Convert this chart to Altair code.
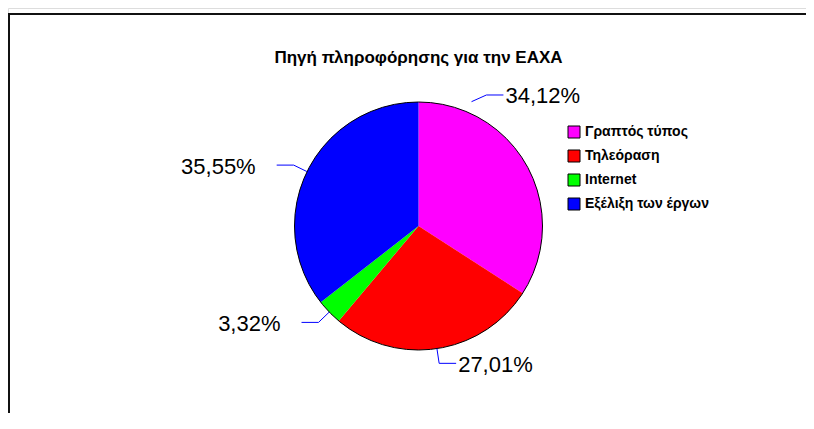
import math
import altair as alt
import pandas as pd

# ---------------- data ----------------
chart_title = "Πηγή πληροφόρησης για την ΕΑΧΑ"
categories = ["Γραπτός τύπος", "Τηλεόραση", "Internet", "Εξέλιξη των έργων"]
values = [34.12, 27.01, 3.32, 35.55]
colors = ["#FF00FF", "#FF0000", "#00FF00", "#0000FF"]

# ---------------- layout ----------------
W, H = 798, 405          # view size (pixels)
CX, CY = 410.5, 218      # pie centre inside the view
R = 124                  # pie radius
ELBOW = 1.12             # elbow of leader lines (fraction of R)
TAIL = 17                # horizontal part of leader lines
GAP_LEFT, GAP_RIGHT = 21, 2
FONT = "Liberation Sans"
# label that was dragged away from its slice: (start angle, start r), (elbow angle, elbow r)
MOVED = {"Γραπτός τύπος": ((23.1, 1.09), (27.4, 1.19))}


def polar(angle_deg, r):
    a = math.radians(angle_deg)
    return r * math.sin(a), -r * math.cos(a)


def fmt(v):
    return f"{v:.2f}".replace(".", ",") + "%"


total = sum(values)
line_rows, text_rows = [], []
cum = 0.0
for cat, v in zip(categories, values):
    mid = (cum + v / 2) / total * 360
    cum += v
    if cat in MOVED:
        (a0, r0), (a1, r1) = MOVED[cat]
    else:
        a0, r0, a1, r1 = mid, 1.0, mid, ELBOW
    sx, sy = polar(a0, R * r0)
    ex, ey = polar(a1, R * r1)
    right = ex > 0
    tx = ex + TAIL if right else ex - TAIL
    for i, (px, py) in enumerate([(sx, sy), (ex, ey), (tx, ey)]):
        line_rows.append({"cat": cat, "idx": i, "px": px, "py": py})
    text_rows.append({
        "cat": cat,
        "label": fmt(v),
        "lx": tx + GAP_RIGHT if right else tx - GAP_LEFT,
        "ly": ey + 1.5,
        "side": "right" if right else "left",
    })

pie_df = pd.DataFrame({"cat": categories, "val": values,
                       "order": list(range(len(categories))),
                       "cx": [0] * len(categories), "cy": [0] * len(categories)})
line_df = pd.DataFrame(line_rows)
text_df = pd.DataFrame(text_rows)
title_df = pd.DataFrame({"t": [chart_title], "tx": [0], "ty": [-168.5]})
center_df = pd.DataFrame({"cx": [0], "cy": [0]})

xs = alt.Scale(domain=[-CX, W - CX], range=[0, W])
ys = alt.Scale(domain=[-CY, H - CY], range=[0, H])
color_scale = alt.Scale(domain=categories, range=colors)

pie = alt.Chart(pie_df).mark_arc(outerRadius=R, strokeWidth=0).encode(
    theta=alt.Theta("val:Q", stack=True),
    order=alt.Order("order:Q"),
    color=alt.Color(
        "cat:N", scale=color_scale, sort=categories,
        legend=alt.Legend(
            title=None, orient="none", legendX=559, legendY=117,
            symbolType="square", symbolSize=144, symbolStrokeColor="black",
            symbolStrokeWidth=1, symbolOpacity=1,
            labelFont=FONT, labelFontSize=14, labelFontWeight="bold",
            labelColor="black", rowPadding=8, labelOffset=4, padding=0,
        ),
    ),
    x=alt.X("cx:Q", scale=xs, axis=None),
    y=alt.Y("cy:Q", scale=ys, axis=None),
)

outline = alt.Chart(center_df).mark_arc(
    outerRadius=R, theta=0, theta2=2 * math.pi,
    fillOpacity=0, stroke="black", strokeWidth=1,
).encode(
    x=alt.X("cx:Q", scale=xs, axis=None),
    y=alt.Y("cy:Q", scale=ys, axis=None),
)

leaders = alt.Chart(line_df).mark_line(color="#0000FF", strokeWidth=1).encode(
    x=alt.X("px:Q", scale=xs, axis=None),
    y=alt.Y("py:Q", scale=ys, axis=None),
    detail="cat:N",
    order="idx:Q",
)


def label_layer(side):
    return alt.Chart(text_df).transform_filter(
        alt.datum.side == side
    ).mark_text(
        align="right" if side == "left" else "left", baseline="middle",
        font=FONT, fontSize=22, color="black",
    ).encode(
        x=alt.X("lx:Q", scale=xs, axis=None),
        y=alt.Y("ly:Q", scale=ys, axis=None),
        text="label:N",
    )


title_layer = alt.Chart(title_df).mark_text(
    align="center", baseline="middle", font=FONT, fontSize=17,
    fontWeight="bold", color="black",
).encode(
    x=alt.X("tx:Q", scale=xs, axis=None),
    y=alt.Y("ty:Q", scale=ys, axis=None),
    text="t:N",
)

frame_top = alt.Chart(center_df).mark_rule(color="#111", strokeWidth=2).encode(
    x=alt.value(0), x2=alt.value(W), y=alt.value(6)
)
frame_left = alt.Chart(center_df).mark_rule(color="#111", strokeWidth=2).encode(
    x=alt.value(1), y=alt.value(5), y2=alt.value(H)
)

chart = alt.layer(
    frame_top, frame_left, pie, outline, leaders,
    label_layer("left"), label_layer("right"), title_layer,
).properties(
    width=W, height=H,
    padding=0,
    autosize=alt.AutoSizeParams(type="none"),
).configure_view(stroke=None).configure(background="white")

chart.save("out.html", embed_options={"renderer": "svg", "actions": False})
